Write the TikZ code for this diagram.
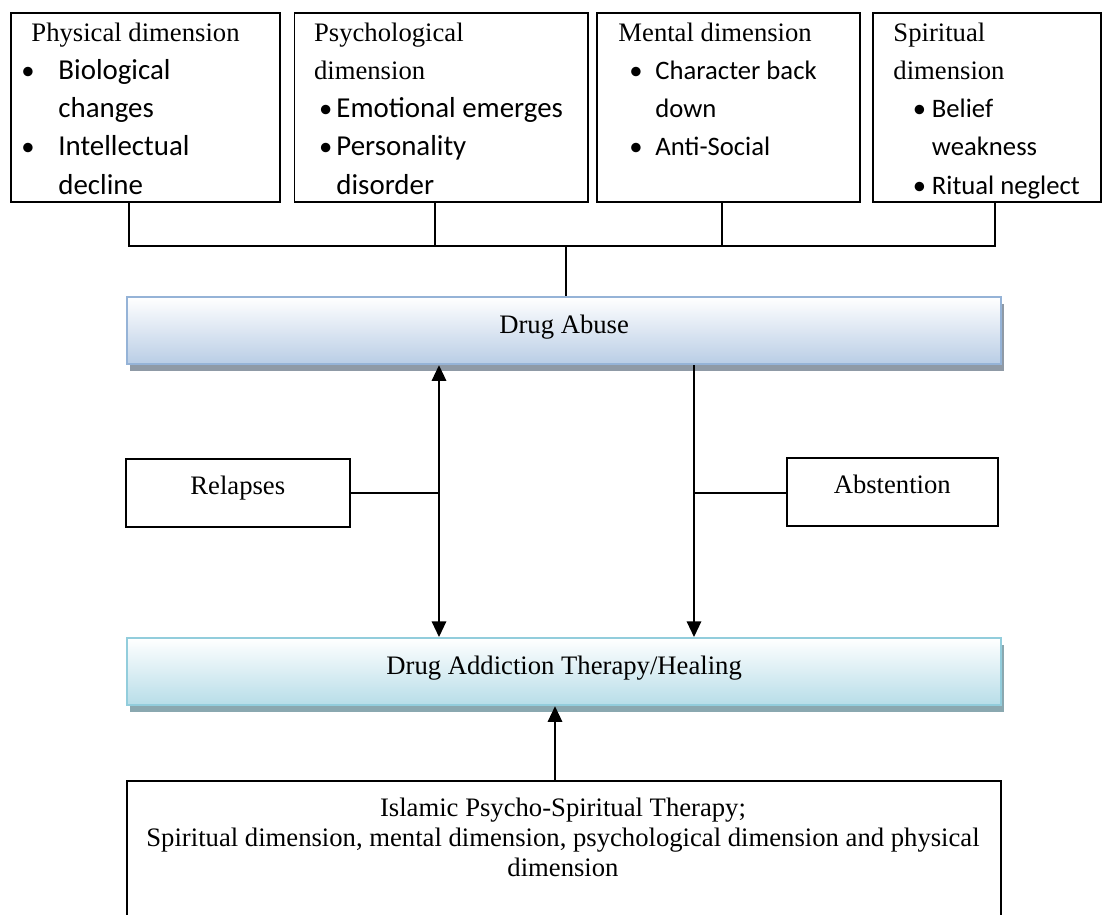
\documentclass[tikz,border=0pt]{standalone}
\usepackage{fontspec}
\setmainfont{Liberation Serif}
\newfontfamily\calib{Carlito}
\usetikzlibrary{arrows.meta,shadows}
\newlength{\px}\setlength{\px}{0.45pt}
\newcommand{\bulsize}{}
% bullet line: offset, bullet width, text
\newcommand{\bul}[3]{\hspace*{#1\px}\makebox[#2\px][l]{\calib\textbullet}{\calib\bulsize #3}}
\newcommand{\cont}[2]{\hspace*{#1\px}{\calib\bulsize #2}}
\definecolor{abuseBot}{RGB}{185,205,229}
\definecolor{abuseLine}{RGB}{149,179,215}
\definecolor{abuseShadow}{RGB}{143,154,166}
\definecolor{therBot}{RGB}{183,221,232}
\definecolor{therLine}{RGB}{146,205,220}
\definecolor{therShadow}{RGB}{138,168,176}
\tikzset{dimbox/.style={draw, line width=0.7pt, anchor=north west, inner sep=0pt,
    minimum height=188.5*\px},
  dimtext/.style={anchor=base west, align=left, inner sep=0pt,
    font=\fontsize{12pt}{17.2pt}\selectfont},
  bigbul/.style={font=\fontsize{12pt}{17.2pt}\selectfont
    \renewcommand{\bulsize}{\fontsize{13pt}{17.2pt}\selectfont}},
  bar/.style={anchor=north west, line width=1pt, inner sep=0pt,
    minimum width=874*\px, minimum height=67*\px,
    text height=0.75em, text depth=0.5em, font=\fontsize{12pt}{14pt}\selectfont},
  sidebox/.style={draw, line width=0.7pt, anchor=north west, inner sep=0pt,
    minimum height=68*\px, text height=0.7em, text depth=0.55em,
    font=\fontsize{12pt}{14pt}\selectfont}
}

\begin{document}
\begin{tikzpicture}[x=0.45pt, y=-0.45pt, > = {Triangle[length=7pt,width=6.5pt]},
    link/.style={line width=0.65pt}]
  \useasboundingbox (0,0) rectangle (1109,914);
  \clip (0,0) rectangle (1109,914);
  \fill[white] (0,0) rectangle (1109,914);

  % four dimensions (text placed by its last baseline)
  \node[dimbox, minimum width=269*\px] (phys) at (10,12.5) {};
  \node[dimtext, bigbul] (physT) at (21,194.2) {\hspace*{10\px}Physical dimension\\
    \bul{0}{37}{Biological}\\ \cont{37}{changes}\\
    \bul{0}{37}{Intellectual}\\ \cont{37}{decline}};
  \node[dimbox, minimum width=293.5*\px] (psych) at (293.5,12.5) {};
  \node[dimtext, bigbul] (psychT) at (313.6,194.2) {Psychological\\ dimension\\
    \bul{5}{17.4}{Emotional emerges}\\ \bul{5}{17.4}{Personality}\\
    \cont{22.4}{disorder}};
  \node[dimbox, minimum width=263*\px] (ment) at (596,12.5) {};
  \node[dimtext] (mentT) at (618,155.9) {Mental dimension\\
    \bul{11}{26}{Character back}\\ \cont{37}{down}\\ \bul{11}{26}{Anti-Social}};
  \node[dimbox, minimum width=228*\px] (spir) at (872,12.5) {};
  \node[dimtext] (spirT) at (893,194.2) {Spiritual\\ dimension\\
    \bul{19.5}{19}{Belief}\\ \cont{38.5}{weakness}\\ \bul{19.5}{19}{Ritual neglect}};

  \coordinate (tap1) at (129,246);
  \coordinate (tap2) at (435,246);
  \coordinate (tap3) at (722,246);
  \coordinate (tap4) at (995,246);
  \coordinate (hub) at (566,246);

  % the two bars
  \node[bar, top color=white, bottom color=abuseBot, draw=abuseLine,
    drop shadow={shadow xshift=1.5pt, shadow yshift=-3pt, fill=abuseShadow, opacity=1}]
    (abuse) at (126,296) {Drug Abuse};
  \node[bar, top color=white, bottom color=therBot, draw=therLine,
    drop shadow={shadow xshift=1.5pt, shadow yshift=-3pt, fill=therShadow, opacity=1}]
    (therapy) at (126,637) {Drug Addiction Therapy/Healing};

  \draw[link] (tap1 |- phys.south) -- (tap1) -- (tap4) -- (tap4 |- spir.south);
  \draw[link] (tap2 |- psych.south) -- (tap2);
  \draw[link] (tap3 |- ment.south) -- (tap3);
  \draw[link] (hub) -- (hub |- abuse.north);

  % relapses / abstention
  \node[sidebox, minimum width=224*\px] (relapse) at (125,458) {Relapses};
  \node[sidebox, minimum width=211*\px] (abstain) at (786,457) {Abstention};
  \coordinate (jl) at (439,493);
  \coordinate (jr) at (694,493);
  \draw[link, <->] (jl |- abuse.south) -- (jl |- therapy.north);
  \draw[link] (relapse.east |- jl) -- (jl);
  \draw[link, ->] (jr |- abuse.south) -- (jr |- therapy.north);
  \draw[link] (abstain.west |- jr) -- (jr);

  % therapy box
  \node[dimbox, minimum width=874*\px, minimum height=170*\px] (islam) at (126,780) {};
  \node[anchor=base, align=center, inner sep=0pt, font=\fontsize{12pt}{13.3pt}\selectfont]
    (islamT) at (563,876) {Islamic Psycho-Spiritual Therapy;\\
    Spiritual dimension, mental dimension, psychological dimension and physical\\
    dimension};
  \coordinate (ja) at (555,780);
  \draw[link, ->] (ja) -- (ja |- therapy.south);
\end{tikzpicture}
\end{document}
